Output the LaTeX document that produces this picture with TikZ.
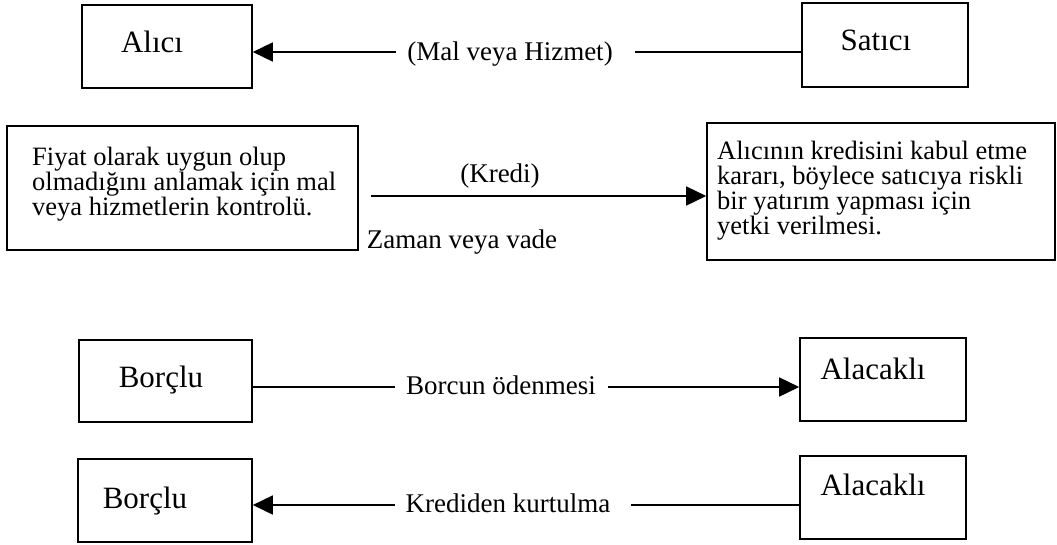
\documentclass[tikz,border=0pt]{standalone}
\usepackage{fontspec}
\setmainfont{Liberation Serif}
\usetikzlibrary{arrows.meta}
\begin{document}
\begin{tikzpicture}[x=1pt,y=-1pt,
  box/.style={draw, line width=1.6pt, rectangle, inner sep=0pt},
  lbl/.style={font=\fontsize{31}{31}\selectfont, inner sep=0pt, anchor=base},
  elbl/.style={font=\fontsize{27}{27}\selectfont, inner sep=0pt, anchor=base},
  txt/.style={font=\fontsize{26.5}{25}\selectfont, inner sep=0pt, anchor=north west, align=left},
  conn/.style={line width=1.6pt},
  arr/.style={conn, -{Triangle[length=20pt,width=19pt]}}
]
\useasboundingbox (0,0) rectangle (1057,544);

% top row
\node[box, minimum width=170pt, minimum height=83pt] (alici) at (167,46.5) {};
\node[lbl] (aliciT) at (152,52) {Alıcı};
\node[box, minimum width=166pt, minimum height=84pt] (satici) at (885,45) {};
\node[lbl] (saticiT) at (876,50) {Satıcı};
\node[elbl] (mal) at (510,60) {(Mal veya Hizmet)};
\coordinate (m1) at (396,52);
\coordinate (m2) at (635,52);
\draw[arr] (m1) -- (alici.east |- m1);
\draw[conn] (m2) -- (satici.west |- m2);

% middle row
\node[box, minimum width=351pt, minimum height=124pt] (fiyat) at (182.5,188) {};
\node[txt] (fiyatT) at (32,147) {\rule{0pt}{18pt}Fiyat olarak uygun olup\\olmadığını anlamak için mal\\veya hizmetlerin kontrolü.};
\node[box, minimum width=348pt, minimum height=137pt] (alicinin) at (881,191.5) {};
\node[txt] (alicininT) at (717,141) {\rule{0pt}{18pt}Alıcının kredisini kabul etme\\kararı, böylece satıcıya riskli\\bir yatırım yapması için\\yetki verilmesi.};
\node[elbl] (kredi) at (500,182) {(Kredi)};
\node[elbl] (zaman) at (462,248) {Zaman veya vade};
\coordinate (k1) at (371,196);
\draw[arr] (k1) -- (alicinin.west |- k1);

% bottom rows
\node[box, minimum width=173pt, minimum height=82pt] (borclu1) at (165.5,381) {};
\node[lbl] (borclu1T) at (161,387) {Borçlu};
\node[box, minimum width=166pt, minimum height=83pt] (alacakli1) at (883,379.5) {};
\node[lbl] (alacakli1T) at (873,379) {Alacaklı};
\node[elbl] (borcun) at (501,394) {Borcun ödenmesi};
\coordinate (b1) at (395,387);
\coordinate (b2) at (608,387);
\draw[conn] (borclu1.east |- b1) -- (b1);
\draw[arr] (b2) -- (alacakli1.west |- b2);

\node[box, minimum width=174pt, minimum height=83pt] (borclu2) at (165,500.5) {};
\node[lbl] (borclu2T) at (145,508) {Borçlu};
\node[box, minimum width=166pt, minimum height=83pt] (alacakli2) at (883,497.5) {};
\node[lbl] (alacakli2T) at (873,495.5) {Alacaklı};
\node[elbl] (kurtulma) at (508,512) {Krediden kurtulma};
\coordinate (c1) at (395,505);
\coordinate (c2) at (631,505);
\draw[arr] (c1) -- (borclu2.east |- c1);
\draw[conn] (c2) -- (alacakli2.west |- c2);
\end{tikzpicture}
\end{document}
